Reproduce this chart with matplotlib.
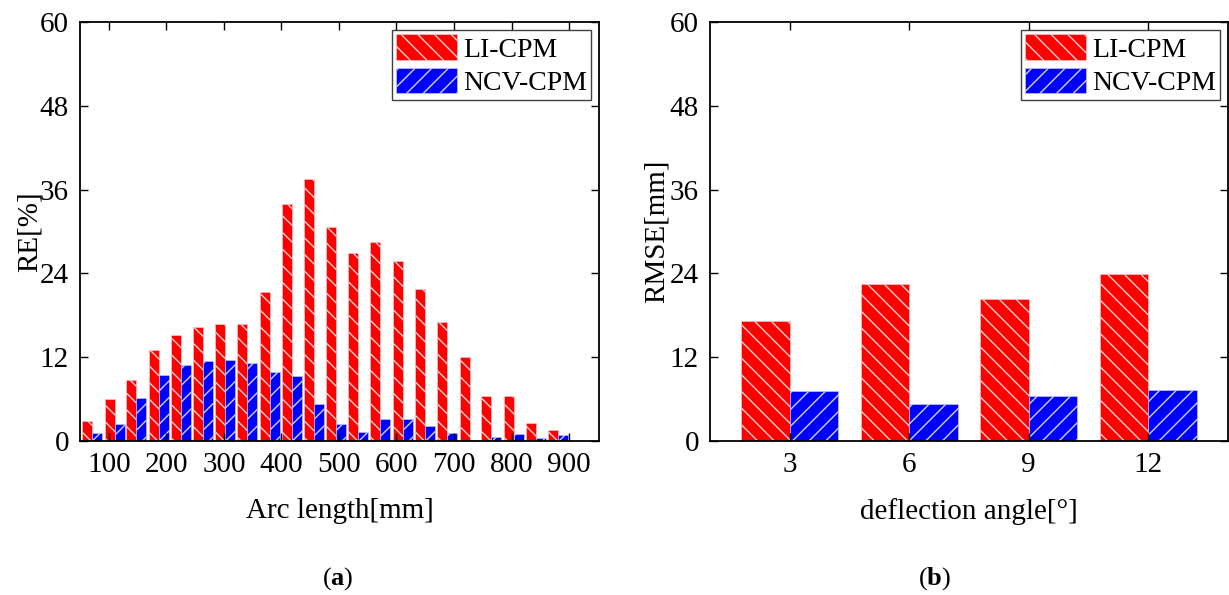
import matplotlib
matplotlib.use('Agg')
import matplotlib.pyplot as plt
import numpy as np

# data
arc_len = [71, 110, 148, 187, 225, 264, 302, 341, 380, 418, 457,
           495, 534, 572, 611, 650, 688, 727, 765, 804, 842, 881]
re_li = [2.9, 6.0, 8.8, 13.0, 15.2, 16.3, 16.7, 16.8, 21.4, 33.9, 37.5,
         30.6, 26.9, 28.5, 25.8, 21.8, 17.1, 12.1, 6.5, 6.5, 2.6, 1.6]
re_ncv = [1.2, 2.5, 6.1, 9.4, 10.9, 11.5, 11.6, 11.1, 9.9, 9.3, 5.3,
          2.5, 1.3, 3.1, 3.1, 2.2, 1.1, 0.2, 0.6, 1.0, 0.5, 0.8]

angles = [3, 6, 9, 12]
rmse_li = [17.2, 22.5, 20.3, 23.9]
rmse_ncv = [7.2, 5.3, 6.5, 7.3]

arc_ticks = [100, 200, 300, 400, 500, 600, 700, 800, 900]
y_ticks = [0, 12, 24, 36, 48, 60]

plt.rcParams['font.family'] = ['Liberation Serif', 'DejaVu Serif']
plt.rcParams['mathtext.fontset'] = 'custom'
plt.rcParams['mathtext.rm'] = 'Liberation Serif'
plt.rcParams['mathtext.bf'] = 'Liberation Serif:bold'
plt.rcParams['hatch.linewidth'] = 1.0
plt.rcParams['xtick.direction'] = 'in'
plt.rcParams['ytick.direction'] = 'in'

FS = 21
RED = '#ff0000'
BLUE = '#0000ff'

fig = plt.figure(figsize=(12.29, 5.95), dpi=100)
ax1 = fig.add_axes([80/1229, 1 - 441/595, 519/1229, 419/595])
ax2 = fig.add_axes([710/1229, 1 - 441/595, 518/1229, 419/595])

# (a) relative error vs arc length
w1 = 17.4
x1 = np.array(arc_len)
ax1.bar(x1 - w1/2, re_li, w1, color=RED, edgecolor='#ffd0d0', linewidth=0.4,
        hatch='\\\\', label='LI-CPM')
ax1.bar(x1 + w1/2, re_ncv, w1, color=BLUE, edgecolor='#d0d0ff', linewidth=0.4,
        hatch='//', label='NCV-CPM')
ax1.set_xlim(50, 952)
ax1.set_xticks(arc_ticks)
ax1.set_xlabel('Arc length[mm]', fontsize=FS, labelpad=14)
ax1.set_ylabel('RE[%]', fontsize=FS, labelpad=-2)

# (b) RMSE vs deflection angle
w2 = 1.22
x2 = np.array(angles)
ax2.bar(x2 - w2/2, rmse_li, w2, color=RED, edgecolor='#ffd0d0', linewidth=0.4,
        hatch='\\\\', label='LI-CPM')
ax2.bar(x2 + w2/2, rmse_ncv, w2, color=BLUE, edgecolor='#d0d0ff', linewidth=0.4,
        hatch='//', label='NCV-CPM')
ax2.set_xlim(1, 14)
ax2.set_xticks(angles)
ax2.set_xlabel('deflection angle[°]', fontsize=FS, labelpad=14)
ax2.set_ylabel('RMSE[mm]', fontsize=FS, labelpad=0)

for ax in (ax1, ax2):
    ax.set_ylim(0, 60)
    ax.set_yticks(y_ticks)
    ax.tick_params(labelsize=FS, length=6, width=1, top=True, right=True, pad=8)
    for s in ax.spines.values():
        s.set_linewidth(1.3)
    leg = ax.legend(loc='upper right', fontsize=20, fancybox=False,
                    edgecolor='#404040', framealpha=1, handlelength=2.2,
                    handleheight=1.05, labelspacing=0.18, borderpad=0.14,
                    handletextpad=0.2, borderaxespad=0.3)
    leg.get_frame().set_linewidth(1.0)

fig.text(338/1229, 1 - 579/595, r'($\mathbf{a}$)', fontsize=19,
         ha='center', va='center')
fig.text(935/1229, 1 - 579/595, r'($\mathbf{b}$)', fontsize=19,
         ha='center', va='center')

plt.savefig('out.png', dpi=100)
